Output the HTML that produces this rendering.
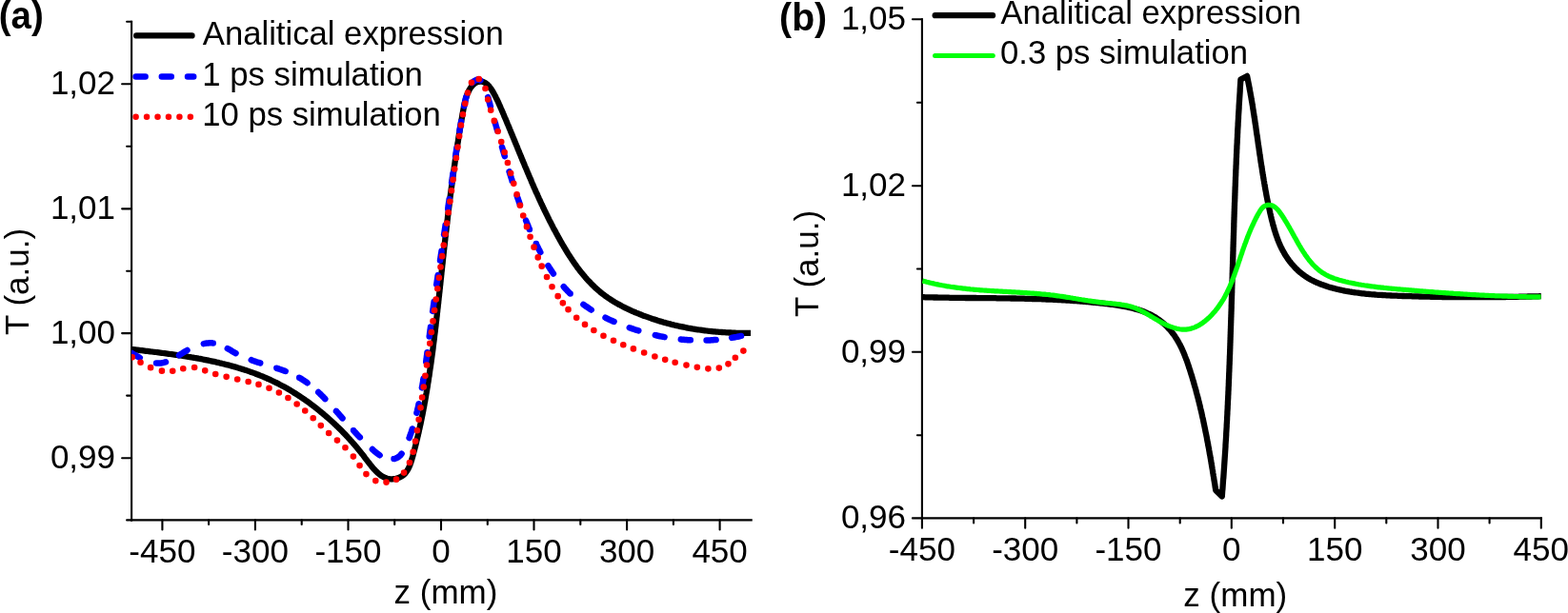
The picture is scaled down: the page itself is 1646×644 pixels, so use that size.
<!DOCTYPE html>
<html><head><meta charset="utf-8"><title>Z-scan figure</title>
<style>
html,body{margin:0;padding:0;background:#fff;}
svg{display:block;}
.ax{stroke:#000;stroke-width:2.1;stroke-linecap:square;}
.tk{stroke:#000;stroke-width:2.1;stroke-linecap:round;}
.lb{font-family:'Liberation Sans',sans-serif;font-size:35px;fill:#000;}
.pl{font-family:'Liberation Sans',sans-serif;font-size:40px;font-weight:bold;fill:#000;}
</style></head>
<body>
<svg width="1646" height="644" viewBox="0 0 1646 644">
<rect width="1646" height="644" fill="#fff"/>
<line x1="138.1" y1="22.8" x2="138.1" y2="546.4" class="ax"/>
<line x1="138.1" y1="546.4" x2="788.7" y2="546.4" class="ax"/>
<line x1="128.1" y1="88.3" x2="138.1" y2="88.3" class="tk"/>
<line x1="128.1" y1="219.35" x2="138.1" y2="219.35" class="tk"/>
<line x1="128.1" y1="350.1" x2="138.1" y2="350.1" class="tk"/>
<line x1="128.1" y1="481.2" x2="138.1" y2="481.2" class="tk"/>
<line x1="133.1" y1="22.8" x2="138.1" y2="22.8" class="tk"/>
<line x1="133.1" y1="153.8" x2="138.1" y2="153.8" class="tk"/>
<line x1="133.1" y1="284.7" x2="138.1" y2="284.7" class="tk"/>
<line x1="133.1" y1="415.6" x2="138.1" y2="415.6" class="tk"/>
<line x1="133.1" y1="546.4" x2="138.1" y2="546.4" class="tk"/>
<line x1="170.4" y1="546.4" x2="170.4" y2="556.5" class="tk"/>
<line x1="267.9" y1="546.4" x2="267.9" y2="556.5" class="tk"/>
<line x1="365.5" y1="546.4" x2="365.5" y2="556.5" class="tk"/>
<line x1="463.0" y1="546.4" x2="463.0" y2="556.5" class="tk"/>
<line x1="560.5" y1="546.4" x2="560.5" y2="556.5" class="tk"/>
<line x1="658.1" y1="546.4" x2="658.1" y2="556.5" class="tk"/>
<line x1="755.6" y1="546.4" x2="755.6" y2="556.5" class="tk"/>
<line x1="219.1" y1="546.4" x2="219.1" y2="550.9" class="tk"/>
<line x1="316.7" y1="546.4" x2="316.7" y2="550.9" class="tk"/>
<line x1="414.2" y1="546.4" x2="414.2" y2="550.9" class="tk"/>
<line x1="511.8" y1="546.4" x2="511.8" y2="550.9" class="tk"/>
<line x1="609.3" y1="546.4" x2="609.3" y2="550.9" class="tk"/>
<line x1="706.9" y1="546.4" x2="706.9" y2="550.9" class="tk"/>
<text x="121" y="98.7" class="lb" text-anchor="end">1,02</text>
<text x="121" y="229.8" class="lb" text-anchor="end">1,01</text>
<text x="121" y="360.5" class="lb" text-anchor="end">1,00</text>
<text x="121" y="491.6" class="lb" text-anchor="end">0,99</text>
<text x="170.4" y="591" class="lb" text-anchor="middle">-450</text>
<text x="267.9" y="591" class="lb" text-anchor="middle">-300</text>
<text x="365.5" y="591" class="lb" text-anchor="middle">-150</text>
<text x="463.0" y="591" class="lb" text-anchor="middle">0</text>
<text x="560.5" y="591" class="lb" text-anchor="middle">150</text>
<text x="658.1" y="591" class="lb" text-anchor="middle">300</text>
<text x="755.6" y="591" class="lb" text-anchor="middle">450</text>
<text x="468" y="634.1" class="lb" text-anchor="middle">z (mm)</text>
<text transform="translate(30.3,296) rotate(-90)" class="lb" text-anchor="middle">T (a.u.)</text>
<text x="-1.3" y="30" class="pl" textLength="47" lengthAdjust="spacingAndGlyphs">(a)</text>
<line x1="967.9" y1="20.3" x2="967.9" y2="544.4" class="ax"/>
<line x1="967.9" y1="544.4" x2="1617.8" y2="544.4" class="ax"/>
<line x1="957.9" y1="20.3" x2="967.9" y2="20.3" class="tk"/>
<text x="951" y="31.0" class="lb" text-anchor="end">1,05</text>
<line x1="957.9" y1="195.2" x2="967.9" y2="195.2" class="tk"/>
<text x="951" y="205.9" class="lb" text-anchor="end">1,02</text>
<line x1="957.9" y1="369.8" x2="967.9" y2="369.8" class="tk"/>
<text x="951" y="380.5" class="lb" text-anchor="end">0,99</text>
<line x1="957.9" y1="544.4" x2="967.9" y2="544.4" class="tk"/>
<text x="951" y="555.1" class="lb" text-anchor="end">0,96</text>
<line x1="962.9" y1="107.8" x2="967.9" y2="107.8" class="tk"/>
<line x1="962.9" y1="282.5" x2="967.9" y2="282.5" class="tk"/>
<line x1="962.9" y1="457.2" x2="967.9" y2="457.2" class="tk"/>
<line x1="967.9" y1="544.4" x2="967.9" y2="554.8" class="tk"/>
<text x="967.9" y="588.8" class="lb" text-anchor="middle">-450</text>
<line x1="1076.2" y1="544.4" x2="1076.2" y2="554.8" class="tk"/>
<text x="1076.2" y="588.8" class="lb" text-anchor="middle">-300</text>
<line x1="1184.5" y1="544.4" x2="1184.5" y2="554.8" class="tk"/>
<text x="1184.5" y="588.8" class="lb" text-anchor="middle">-150</text>
<line x1="1292.8" y1="544.4" x2="1292.8" y2="554.8" class="tk"/>
<text x="1292.8" y="588.8" class="lb" text-anchor="middle">0</text>
<line x1="1401.2" y1="544.4" x2="1401.2" y2="554.8" class="tk"/>
<text x="1401.2" y="588.8" class="lb" text-anchor="middle">150</text>
<line x1="1509.5" y1="544.4" x2="1509.5" y2="554.8" class="tk"/>
<text x="1509.5" y="588.8" class="lb" text-anchor="middle">300</text>
<line x1="1617.8" y1="544.4" x2="1617.8" y2="554.8" class="tk"/>
<text x="1617.8" y="588.8" class="lb" text-anchor="middle">450</text>
<line x1="1022.1" y1="544.4" x2="1022.1" y2="549.4" class="tk"/>
<line x1="1130.4" y1="544.4" x2="1130.4" y2="549.4" class="tk"/>
<line x1="1238.7" y1="544.4" x2="1238.7" y2="549.4" class="tk"/>
<line x1="1347.0" y1="544.4" x2="1347.0" y2="549.4" class="tk"/>
<line x1="1455.3" y1="544.4" x2="1455.3" y2="549.4" class="tk"/>
<line x1="1563.6" y1="544.4" x2="1563.6" y2="549.4" class="tk"/>
<text x="1296.8" y="636.7" class="lb" text-anchor="middle">z (mm)</text>
<text transform="translate(859.1,277) rotate(-90)" class="lb" text-anchor="middle">T (a.u.)</text>
<text x="818.1" y="32.1" class="pl" textLength="50.1" lengthAdjust="spacingAndGlyphs">(b)</text>
<defs><clipPath id="ca"><rect x="138" y="0" width="650.7" height="547.5"/></clipPath><clipPath id="cb"><rect x="967.8" y="0" width="650" height="545.5"/></clipPath></defs>
<g clip-path="url(#ca)">
<path d="M138.6,367.0 140.1,367.2 141.6,367.4 143.0,367.5 144.5,367.7 146.0,367.9 147.5,368.1 148.9,368.2 150.4,368.4 151.9,368.6 153.4,368.8 154.9,368.9 156.3,369.1 157.8,369.3 159.3,369.5 160.8,369.7 162.3,369.8 163.8,370.0 165.2,370.2 166.7,370.4 168.2,370.6 169.7,370.8 171.2,371.0 172.7,371.2 174.2,371.4 175.7,371.6 177.1,371.8 178.6,372.0 180.1,372.2 181.6,372.4 183.1,372.6 184.6,372.8 186.1,373.0 187.6,373.3 189.1,373.5 190.6,373.7 192.0,373.9 193.5,374.2 195.0,374.4 196.5,374.6 198.0,374.9 199.5,375.1 201.0,375.4 202.5,375.6 203.9,375.9 205.4,376.1 206.9,376.4 208.4,376.7 209.9,376.9 211.3,377.2 212.8,377.5 214.3,377.8 215.8,378.1 217.3,378.4 218.7,378.7 220.2,379.0 221.7,379.3 223.1,379.6 224.6,379.9 226.1,380.2 227.6,380.6 229.0,380.9 230.5,381.3 231.9,381.6 233.4,382.0 234.9,382.3 236.3,382.7 237.8,383.1 239.2,383.4 240.7,383.8 242.1,384.2 243.6,384.6 245.0,385.0 246.4,385.4 247.9,385.8 249.3,386.3 250.8,386.7 252.2,387.1 253.6,387.6 255.0,388.0 256.5,388.5 257.9,388.9 259.3,389.4 260.7,389.9 262.1,390.4 263.6,390.9 265.0,391.4 266.4,391.9 267.8,392.4 269.2,393.0 270.6,393.5 272.0,394.0 273.3,394.6 274.7,395.1 276.1,395.7 277.5,396.3 278.9,396.9 280.2,397.5 281.6,398.1 283.0,398.7 284.3,399.3 285.7,400.0 287.0,400.6 288.4,401.3 289.7,401.9 291.1,402.6 292.4,403.3 293.7,404.0 295.1,404.7 296.4,405.4 297.7,406.1 299.0,406.8 300.4,407.6 301.7,408.3 303.0,409.1 304.3,409.8 305.6,410.6 306.9,411.4 308.1,412.2 309.4,413.0 310.7,413.8 312.0,414.6 313.2,415.4 314.5,416.2 315.7,417.1 317.0,417.9 318.2,418.8 319.5,419.6 320.7,420.5 322.0,421.4 323.2,422.2 324.4,423.1 325.6,424.0 326.8,424.9 328.0,425.8 329.2,426.7 330.4,427.6 331.6,428.6 332.8,429.5 333.9,430.4 335.1,431.4 336.3,432.3 337.4,433.3 338.6,434.2 339.7,435.2 340.8,436.1 342.0,437.1 343.1,438.1 344.2,439.0 345.3,440.0 346.4,441.0 347.5,442.0 348.6,443.0 349.7,444.0 350.8,445.0 351.8,446.0 352.9,447.0 353.9,448.0 355.0,449.0 356.0,450.0 357.1,451.1 358.1,452.1 359.1,453.1 360.2,454.2 361.2,455.2 362.2,456.3 363.2,457.3 364.2,458.4 365.2,459.5 366.2,460.6 367.2,461.7 368.2,462.8 369.2,463.9 370.2,465.0 371.2,466.2 372.2,467.3 373.2,468.5 374.1,469.6 375.1,470.8 376.1,472.0 377.1,473.2 378.1,474.4 379.1,475.7 380.1,476.9 381.1,478.2 382.1,479.5 383.0,480.8 384.0,482.1 385.0,483.4 386.0,484.7 387.1,486.0 388.1,487.3 389.1,488.6 390.1,489.9 391.2,491.2 392.2,492.4 393.3,493.6 394.4,494.7 395.5,495.8 396.6,496.9 397.8,497.9 398.9,498.8 400.1,499.7 401.3,500.4 402.5,501.1 403.8,501.7 405.1,502.2 406.4,502.7 407.7,503.0 409.1,503.2 410.4,503.3 411.8,503.3 413.1,503.2 414.5,503.1 415.8,502.8 417.2,502.4 418.4,502.0 419.7,501.4 420.9,500.8 422.1,500.1 423.2,499.3 424.2,498.4 425.2,497.4 426.1,496.3 426.9,495.2 427.7,494.0 428.4,492.8 429.1,491.4 429.7,490.1 430.3,488.7 430.8,487.2 431.4,485.7 431.8,484.2 432.3,482.7 432.7,481.2 433.2,479.6 433.6,478.1 434.0,476.5 434.4,475.0 434.8,473.5 435.2,471.9 435.6,470.4 436.0,468.9 436.4,467.4 436.8,465.8 437.1,464.3 437.5,462.8 437.9,461.3 438.2,459.8 438.6,458.3 438.9,456.8 439.3,455.3 439.6,453.8 439.9,452.3 440.3,450.8 440.6,449.3 440.9,447.8 441.3,446.3 441.6,444.8 441.9,443.3 442.2,441.9 442.5,440.4 442.8,438.9 443.1,437.4 443.4,436.0 443.7,434.5 444.0,433.0 444.3,431.5 444.5,430.1 444.8,428.6 445.1,427.1 445.4,425.7 445.6,424.2 445.9,422.7 446.2,421.3 446.4,419.8 446.7,418.3 446.9,416.9 447.2,415.4 447.4,414.0 447.7,412.5 447.9,411.0 448.2,409.6 448.4,408.1 448.7,406.7 448.9,405.2 449.1,403.7 449.3,402.3 449.6,400.8 449.8,399.4 450.0,397.9 450.2,396.4 450.5,395.0 450.7,393.5 450.9,392.0 451.1,390.6 451.3,389.1 451.5,387.6 451.8,386.2 452.0,384.7 452.2,383.2 452.4,381.8 452.6,380.3 452.8,378.8 453.0,377.3 453.2,375.9 453.4,374.4 453.6,372.9 453.8,371.4 454.0,370.0 454.2,368.5 454.4,367.0 454.6,365.5 454.7,364.1 454.9,362.6 455.1,361.1 455.3,359.6 455.5,358.1 455.7,356.6 455.9,355.2 456.0,353.7 456.2,352.2 456.4,350.7 456.6,349.2 456.8,347.7 456.9,346.3 457.1,344.8 457.3,343.3 457.5,341.8 457.6,340.3 457.8,338.8 458.0,337.3 458.2,335.8 458.3,334.3 458.5,332.8 458.7,331.4 458.8,329.9 459.0,328.4 459.2,326.9 459.3,325.4 459.5,323.9 459.7,322.4 459.8,320.9 460.0,319.4 460.2,317.9 460.3,316.4 460.5,314.9 460.6,313.4 460.8,311.9 461.0,310.4 461.1,308.9 461.3,307.4 461.5,305.9 461.6,304.4 461.8,302.9 461.9,301.4 462.1,299.9 462.3,298.4 462.4,296.9 462.6,295.4 462.7,293.9 462.9,292.4 463.1,290.9 463.2,289.4 463.4,287.9 463.5,286.4 463.7,284.9 463.9,283.4 464.0,281.9 464.2,280.4 464.3,278.9 464.5,277.4 464.7,275.9 464.8,274.4 465.0,272.9 465.1,271.4 465.3,269.9 465.5,268.4 465.6,266.9 465.8,265.4 465.9,263.9 466.1,262.4 466.3,260.9 466.4,259.4 466.6,257.9 466.8,256.4 466.9,254.9 467.1,253.4 467.3,251.9 467.4,250.4 467.6,248.9 467.8,247.4 467.9,245.9 468.1,244.4 468.3,242.9 468.5,241.4 468.6,239.9 468.8,238.4 469.0,236.9 469.1,235.4 469.3,233.9 469.5,232.4 469.7,230.9 469.9,229.4 470.0,227.9 470.2,226.4 470.4,224.9 470.6,223.4 470.8,221.9 470.9,220.4 471.1,218.9 471.3,217.4 471.5,215.9 471.7,214.4 471.9,212.9 472.1,211.4 472.2,209.9 472.4,208.4 472.6,206.9 472.8,205.4 473.0,203.9 473.2,202.4 473.4,201.0 473.6,199.5 473.8,198.0 474.0,196.5 474.2,195.0 474.4,193.6 474.6,192.1 474.8,190.6 475.0,189.1 475.2,187.7 475.4,186.2 475.6,184.7 475.8,183.3 476.0,181.8 476.2,180.4 476.4,178.9 476.6,177.5 476.8,176.0 477.0,174.6 477.2,173.1 477.4,171.7 477.6,170.2 477.8,168.8 478.0,167.4 478.2,165.9 478.4,164.5 478.6,163.1 478.8,161.6 479.0,160.2 479.2,158.8 479.5,157.4 479.7,155.9 479.9,154.5 480.1,153.1 480.3,151.6 480.5,150.2 480.8,148.8 481.0,147.3 481.2,145.9 481.4,144.4 481.7,143.0 481.9,141.5 482.1,140.0 482.4,138.6 482.6,137.1 482.9,135.6 483.1,134.1 483.4,132.6 483.6,131.1 483.9,129.5 484.1,128.0 484.4,126.4 484.7,124.9 485.0,123.3 485.2,121.7 485.5,120.1 485.8,118.5 486.1,116.9 486.4,115.2 486.7,113.6 487.0,112.0 487.4,110.3 487.7,108.7 488.1,107.0 488.5,105.4 488.9,103.8 489.4,102.3 489.9,100.7 490.4,99.2 491.0,97.8 491.7,96.3 492.3,95.0 493.1,93.7 493.9,92.4 494.8,91.2 495.7,90.1 496.7,89.1 497.7,88.1 498.8,87.3 500.0,86.6 501.1,86.1 502.4,85.8 503.6,85.6 504.8,85.6 506.1,85.7 507.3,86.1 508.5,86.6 509.7,87.2 510.8,88.1 511.9,89.0 512.9,90.1 513.9,91.3 514.9,92.6 515.8,93.9 516.7,95.3 517.6,96.7 518.4,98.2 519.2,99.7 520.0,101.1 520.7,102.6 521.4,104.0 522.1,105.4 522.8,106.8 523.4,108.2 524.0,109.6 524.6,110.9 525.2,112.3 525.8,113.7 526.4,115.0 527.0,116.4 527.6,117.8 528.2,119.2 528.8,120.5 529.3,121.9 529.9,123.3 530.5,124.6 531.1,126.0 531.7,127.4 532.2,128.8 532.8,130.2 533.4,131.5 534.0,132.9 534.5,134.3 535.1,135.7 535.7,137.0 536.2,138.4 536.8,139.8 537.4,141.2 538.0,142.6 538.5,144.0 539.1,145.3 539.7,146.7 540.2,148.1 540.8,149.5 541.4,150.9 541.9,152.2 542.5,153.6 543.1,155.0 543.6,156.4 544.2,157.8 544.8,159.2 545.3,160.5 545.9,161.9 546.5,163.3 547.0,164.7 547.6,166.1 548.2,167.5 548.7,168.8 549.3,170.2 549.9,171.6 550.5,173.0 551.0,174.4 551.6,175.7 552.2,177.1 552.8,178.5 553.4,179.9 553.9,181.3 554.5,182.6 555.1,184.0 555.7,185.4 556.3,186.8 556.9,188.1 557.5,189.5 558.0,190.9 558.6,192.3 559.2,193.6 559.8,195.0 560.4,196.4 561.0,197.8 561.6,199.1 562.2,200.5 562.8,201.9 563.5,203.2 564.1,204.6 564.7,206.0 565.3,207.3 565.9,208.7 566.5,210.0 567.2,211.4 567.8,212.8 568.4,214.1 569.1,215.5 569.7,216.8 570.3,218.2 571.0,219.5 571.6,220.9 572.3,222.2 572.9,223.6 573.6,224.9 574.3,226.3 574.9,227.6 575.6,229.0 576.2,230.3 576.9,231.7 577.6,233.0 578.3,234.3 579.0,235.7 579.7,237.0 580.3,238.3 581.0,239.7 581.7,241.0 582.5,242.3 583.2,243.6 583.9,245.0 584.6,246.3 585.3,247.6 586.0,248.9 586.8,250.2 587.5,251.5 588.2,252.9 589.0,254.2 589.7,255.5 590.5,256.8 591.3,258.1 592.0,259.4 592.8,260.7 593.6,262.0 594.4,263.3 595.1,264.5 595.9,265.8 596.7,267.1 597.5,268.4 598.4,269.6 599.2,270.9 600.0,272.1 600.8,273.4 601.7,274.6 602.5,275.9 603.4,277.1 604.3,278.3 605.1,279.5 606.0,280.8 606.9,282.0 607.8,283.1 608.7,284.3 609.6,285.5 610.6,286.7 611.5,287.8 612.5,289.0 613.4,290.1 614.4,291.3 615.4,292.4 616.3,293.5 617.3,294.6 618.3,295.7 619.4,296.7 620.4,297.8 621.4,298.9 622.5,299.9 623.6,300.9 624.6,301.9 625.7,303.0 626.8,303.9 627.9,304.9 629.1,305.9 630.2,306.8 631.3,307.8 632.5,308.7 633.7,309.6 634.9,310.5 636.1,311.4 637.3,312.2 638.5,313.1 639.8,313.9 641.0,314.7 642.3,315.5 643.5,316.3 644.8,317.1 646.1,317.9 647.4,318.6 648.7,319.4 650.1,320.1 651.4,320.8 652.7,321.5 654.1,322.2 655.4,322.9 656.8,323.6 658.1,324.2 659.5,324.9 660.9,325.5 662.3,326.2 663.6,326.8 665.0,327.4 666.4,328.0 667.8,328.6 669.2,329.1 670.6,329.7 672.0,330.3 673.4,330.8 674.8,331.4 676.3,331.9 677.7,332.4 679.1,332.9 680.5,333.4 681.9,333.9 683.3,334.4 684.8,334.9 686.2,335.4 687.6,335.8 689.0,336.3 690.5,336.8 691.9,337.2 693.3,337.6 694.8,338.0 696.2,338.5 697.6,338.9 699.1,339.3 700.5,339.7 701.9,340.0 703.4,340.4 704.8,340.8 706.3,341.1 707.7,341.5 709.2,341.8 710.6,342.2 712.1,342.5 713.5,342.8 715.0,343.1 716.4,343.4 717.9,343.7 719.4,344.0 720.8,344.3 722.3,344.6 723.8,344.8 725.2,345.1 726.7,345.4 728.2,345.6 729.6,345.8 731.1,346.1 732.6,346.3 734.1,346.5 735.5,346.7 737.0,346.9 738.5,347.1 740.0,347.3 741.5,347.5 742.9,347.7 744.4,347.8 745.9,348.0 747.4,348.1 748.9,348.3 750.4,348.4 751.9,348.6 753.4,348.7 754.9,348.8 756.4,348.9 757.9,349.0 759.4,349.1 760.9,349.2 762.4,349.3 763.9,349.4 765.4,349.5 766.9,349.5 768.4,349.6 769.9,349.7 771.4,349.7 772.9,349.8 774.4,349.8 776.0,349.8 777.5,349.8 779.0,349.9 780.5,349.9 782.0,349.9 783.5,349.9 785.1,349.9 786.6,349.9 788.1,349.9" fill="none" stroke="#000" stroke-width="6.3" stroke-linejoin="round"/>
<path d="M138.1,370.8 138.3,370.9 138.9,371.3 139.7,371.8 140.4,372.2 141.2,372.7 142.0,373.2 142.8,373.6 143.7,374.1 144.6,374.6 145.5,375.1 146.4,375.6 146.8,375.8 M164.1,381.5 164.3,381.5 165.3,381.6 166.3,381.6 167.2,381.6 168.2,381.5 169.1,381.4 170.0,381.3 170.9,381.1 171.8,380.9 172.7,380.7 173.6,380.4 174.0,380.3 M188.0,373.2 188.1,373.1 188.9,372.6 189.8,372.1 190.7,371.5 191.6,371.0 192.4,370.4 193.3,369.9 194.2,369.4 195.1,368.8 196.0,368.3 196.5,368.0 M213.8,361.1 213.8,361.1 214.8,360.9 215.8,360.7 216.8,360.6 217.8,360.5 218.7,360.4 219.7,360.3 220.7,360.3 221.6,360.3 222.6,360.3 223.5,360.4 223.7,360.4 M238.8,366.1 239.0,366.2 239.8,366.7 240.7,367.2 241.6,367.7 242.5,368.2 243.4,368.8 244.3,369.3 245.2,369.8 246.1,370.3 247.0,370.8 247.5,371.1 M263.8,378.2 263.9,378.3 264.9,378.6 265.8,379.0 266.8,379.3 267.8,379.6 268.7,380.0 269.7,380.3 270.6,380.6 271.6,380.9 272.6,381.2 273.2,381.4 M290.3,386.7 290.3,386.8 291.3,387.1 292.2,387.4 293.1,387.7 294.1,388.0 295.0,388.3 296.0,388.7 296.9,389.0 297.8,389.3 298.7,389.7 299.7,390.0 299.7,390.0 M314.2,396.8 314.3,396.8 315.2,397.3 316.0,397.8 316.8,398.4 317.7,398.9 318.5,399.4 319.3,400.0 320.1,400.5 320.9,401.1 321.7,401.6 322.5,402.2 322.6,402.3 M334.2,412.0 334.4,412.2 335.1,412.9 335.8,413.5 336.5,414.3 337.3,415.0 338.0,415.7 338.7,416.4 339.4,417.1 340.1,417.8 340.8,418.6 341.3,419.1 M352.9,431.9 353.1,432.0 353.7,432.8 354.4,433.6 355.1,434.3 355.7,435.1 356.4,435.8 357.0,436.6 357.7,437.3 358.3,438.1 359.0,438.8 359.5,439.4 M371.0,452.2 371.0,452.3 371.7,453.0 372.4,453.7 373.0,454.4 373.7,455.1 374.4,455.8 375.1,456.6 375.7,457.3 376.4,458.0 377.1,458.7 377.8,459.4 377.8,459.4 M390.9,472.0 391.0,472.1 391.8,472.9 392.6,473.6 393.4,474.3 394.2,474.9 395.0,475.6 395.9,476.3 396.7,476.9 397.5,477.5 398.4,478.1 398.6,478.3 M413.5,482.1 413.7,482.1 414.6,481.8 415.4,481.5 416.3,481.2 417.1,480.7 417.9,480.3 418.7,479.7 419.4,479.1 420.1,478.5 420.8,477.7 421.4,476.9 421.6,476.6 M429.6,460.0 429.7,459.8 430.1,458.8 430.4,457.9 430.7,456.9 431.1,456.0 431.4,455.1 431.7,454.1 432.0,453.2 432.3,452.2 432.6,451.3 432.8,450.5 M437.4,433.9 437.4,433.9 437.6,432.9 437.9,432.0 438.1,431.0 438.3,430.0 438.5,429.1 438.8,428.1 439.0,427.1 439.2,426.2 439.4,425.2 439.6,424.2 439.6,424.2 M442.9,407.4 442.9,407.4 443.1,406.4 443.3,405.4 443.5,404.4 443.6,403.4 443.8,402.4 444.0,401.4 444.1,400.5 444.3,399.5 444.4,398.5 444.6,397.5 M447.2,380.1 447.2,379.9 447.4,378.9 447.5,377.9 447.6,376.9 447.8,375.9 447.9,374.9 448.0,373.9 448.2,372.9 448.3,371.9 448.4,370.9 448.5,370.2 M450.7,353.5 450.7,353.2 450.9,352.3 451.0,351.3 451.1,350.3 451.2,349.3 451.4,348.3 451.5,347.3 451.6,346.3 451.8,345.3 451.9,344.3 452.0,343.6 M454.2,326.9 454.3,326.7 454.4,325.7 454.5,324.7 454.7,323.7 454.8,322.7 454.9,321.7 455.1,320.7 455.2,319.7 455.4,318.7 455.5,317.7 455.6,317.0 M458.2,299.0 458.2,299.0 458.4,298.0 458.5,297.0 458.7,296.0 458.8,295.0 459.0,294.0 459.1,293.0 459.3,292.1 459.4,291.1 459.5,290.1 459.7,289.1 459.7,289.1 M462.0,273.6 462.0,273.5 462.2,272.6 462.3,271.6 462.5,270.6 462.6,269.6 462.8,268.6 462.9,267.6 463.1,266.6 463.2,265.6 463.4,264.7 463.5,263.7 463.5,263.7 M466.1,246.4 466.2,246.1 466.3,245.1 466.5,244.2 466.6,243.2 466.8,242.2 466.9,241.2 467.1,240.2 467.2,239.2 467.4,238.2 467.5,237.2 467.6,236.5 M470.2,219.2 470.2,219.1 470.4,218.1 470.5,217.1 470.6,216.2 470.8,215.2 470.9,214.2 471.1,213.2 471.2,212.2 471.4,211.2 471.5,210.2 471.6,209.3 M474.1,192.0 474.1,192.0 474.3,191.0 474.4,190.0 474.5,189.0 474.7,188.0 474.8,187.0 475.0,186.0 475.1,185.0 475.3,184.0 475.4,183.0 475.5,182.1 M478.1,164.8 478.1,164.7 478.2,163.7 478.4,162.7 478.5,161.7 478.7,160.7 478.8,159.7 479.0,158.7 479.1,157.7 479.3,156.7 479.5,155.8 479.6,154.9 M482.4,137.7 482.4,137.6 482.6,136.6 482.7,135.7 482.9,134.7 483.1,133.7 483.2,132.7 483.4,131.8 483.6,130.8 483.7,129.8 483.9,128.9 484.1,127.9 484.1,127.8 M487.2,111.4 487.3,111.2 487.5,110.2 487.7,109.2 487.9,108.2 488.1,107.2 488.4,106.2 488.6,105.2 488.8,104.2 489.0,103.2 489.3,102.2 489.4,101.6 M495.5,87.0 495.7,86.8 496.4,86.2 497.2,85.5 498.0,85.0 498.9,84.5 499.8,84.0 500.8,83.7 501.8,83.5 502.7,83.6 503.5,83.9 504.3,84.4 504.3,84.4 M512.2,102.1 512.2,102.1 512.4,103.0 512.7,104.0 513.0,105.0 513.2,105.9 513.5,106.9 513.8,107.8 514.1,108.8 514.3,109.8 514.6,110.7 514.9,111.7 514.9,111.7 M519.4,127.8 519.4,127.8 519.7,128.8 520.0,129.7 520.3,130.7 520.5,131.6 520.8,132.6 521.1,133.6 521.3,134.5 521.6,135.5 521.9,136.5 522.2,137.4 522.2,137.4 M527.0,154.5 527.0,154.5 527.3,155.4 527.6,156.4 527.8,157.3 528.1,158.3 528.4,159.3 528.7,160.2 529.0,161.2 529.2,162.1 529.5,163.1 529.8,164.1 529.8,164.1 M534.6,180.3 534.6,180.3 534.9,181.3 535.2,182.2 535.5,183.2 535.8,184.1 536.1,185.1 536.4,186.0 536.7,187.0 537.0,187.9 537.3,188.9 537.6,189.8 537.6,189.9 M542.7,205.7 542.7,205.7 543.0,206.7 543.3,207.6 543.6,208.6 544.0,209.5 544.3,210.4 544.6,211.4 544.9,212.3 545.3,213.3 545.6,214.2 545.9,215.1 545.9,215.2 M552.1,231.7 552.1,231.7 552.5,232.6 552.9,233.6 553.2,234.5 553.6,235.4 554.0,236.3 554.4,237.3 554.7,238.2 555.1,239.1 555.5,240.0 555.9,240.9 555.9,241.0 M562.8,256.0 562.8,256.2 563.3,257.1 563.7,258.0 564.2,258.9 564.6,259.8 565.1,260.7 565.5,261.6 566.0,262.5 566.5,263.4 566.9,264.3 567.3,265.0 M575.4,279.2 575.5,279.4 576.1,280.3 576.6,281.1 577.2,281.9 577.7,282.8 578.3,283.6 578.8,284.5 579.4,285.3 579.9,286.1 580.5,286.9 580.9,287.5 M591.7,301.2 591.7,301.2 592.4,302.0 593.0,302.7 593.7,303.4 594.4,304.1 595.1,304.9 595.7,305.6 596.4,306.3 597.1,307.0 597.8,307.7 598.5,308.4 598.6,308.4 M612.4,319.9 612.4,319.9 613.2,320.5 614.0,321.0 614.8,321.6 615.6,322.2 616.5,322.7 617.3,323.3 618.1,323.8 619.0,324.4 619.8,324.9 620.6,325.4 620.7,325.5 M635.5,333.7 635.7,333.8 636.6,334.3 637.5,334.7 638.4,335.1 639.3,335.6 640.2,336.0 641.2,336.4 642.1,336.8 643.0,337.3 643.9,337.7 644.6,337.9 M660.8,344.3 661.0,344.4 662.0,344.7 662.9,345.0 663.9,345.4 664.9,345.7 665.8,346.0 666.8,346.3 667.7,346.6 668.7,346.9 669.6,347.2 670.3,347.4 M687.8,352.1 687.8,352.1 688.8,352.3 689.8,352.5 690.7,352.8 691.7,353.0 692.7,353.2 693.7,353.4 694.6,353.6 695.6,353.7 696.6,353.9 697.6,354.1 697.6,354.1 M714.8,356.6 714.8,356.6 715.8,356.7 716.8,356.8 717.8,356.8 718.8,356.9 719.8,357.0 720.8,357.1 721.8,357.2 722.8,357.2 723.8,357.3 724.8,357.3 724.8,357.3 M741.6,357.5 741.6,357.5 742.6,357.5 743.6,357.5 744.6,357.4 745.6,357.4 746.6,357.3 747.6,357.3 748.6,357.2 749.6,357.1 750.6,357.1 751.6,357.0 751.6,357.0 M768.2,354.9 768.4,354.8 769.4,354.6 770.4,354.5 771.4,354.3 772.4,354.1 773.4,353.9 774.4,353.7 775.4,353.5 776.3,353.3 777.3,353.0 778.0,352.9" fill="none" stroke="#00f" stroke-width="6.5" stroke-linecap="round" stroke-linejoin="round"/>
<path d="M138.80,375.34h0.02 M147.52,380.80h0.02 M158.09,386.15h0.02 M169.90,389.65h0.02 M181.21,389.82h0.02 M192.27,387.27h0.02 M204.12,385.93h0.02 M215.21,389.35h0.02 M226.20,392.94h0.02 M237.65,395.87h0.02 M249.17,398.43h0.02 M260.66,401.03h0.02 M271.49,403.92h0.02 M282.50,407.72h0.02 M292.88,412.51h0.02 M302.39,418.03h0.02 M311.65,424.48h0.02 M320.23,431.45h0.02 M328.72,439.26h0.02 M336.79,447.10h0.02 M345.14,454.95h0.02 M353.95,462.60h0.02 M362.44,470.26h0.02 M370.88,479.58h0.02 M377.54,489.10h0.02 M384.42,498.11h0.02 M394.28,505.11h0.02 M405.52,506.58h0.02 M416.04,503.63h0.02 M424.05,496.62h0.02 M429.95,485.96h0.02 M433.65,474.82h0.02 M436.09,463.58h0.02 M437.92,452.18h0.02 M439.64,440.79h0.02 M441.52,428.18h0.02 M443.09,417.57h0.02 M444.71,406.47h0.02 M446.39,394.87h0.02 M448.02,383.50h0.02 M449.68,371.86h0.02 M451.25,360.71h0.02 M452.89,349.04h0.02 M454.52,337.38h0.02 M456.11,325.97h0.02 M457.70,314.57h0.02 M459.30,303.19h0.02 M460.89,291.82h0.02 M462.50,280.49h0.02 M464.11,269.16h0.02 M465.76,257.58h0.02 M467.42,246.01h0.02 M469.05,234.60h0.02 M470.69,223.20h0.02 M472.34,211.69h0.02 M473.98,200.19h0.02 M475.61,188.83h0.02 M477.23,177.47h0.02 M478.86,166.04h0.02 M480.48,154.61h0.02 M482.15,143.03h0.02 M483.93,131.46h0.02 M485.91,120.23h0.02 M488.28,108.71h0.02 M490.99,97.55h0.02 M494.96,86.78h0.02 M502.71,82.99h0.02 M509.48,93.06h0.02 M512.15,104.55h0.02 M515.19,115.75h0.02 M518.81,126.91h0.02 M522.62,138.07h0.02 M526.21,149.03h0.02 M529.62,160.02h0.02 M532.91,171.03h0.02 M536.12,182.05h0.02 M539.23,192.83h0.02 M542.56,204.33h0.02 M545.94,215.80h0.02 M549.22,226.53h0.02 M552.95,238.17h0.02 M556.57,248.81h0.02 M560.51,259.64h0.02 M564.73,270.39h0.02 M568.68,279.67h0.02 M574.04,291.07h0.02 M579.50,301.22h0.02 M585.66,311.14h0.02 M590.84,318.33h0.02 M596.50,325.15h0.02 M605.15,333.81h0.02 M613.99,340.89h0.02 M623.35,347.06h0.02 M633.46,352.71h0.02 M643.98,357.78h0.02 M654.27,362.21h0.02 M664.87,366.39h0.02 M676.13,370.57h0.02 M687.37,374.45h0.02 M698.19,377.84h0.02 M708.65,380.76h0.02 M720.48,383.60h0.02 M731.83,385.83h0.02 M743.36,387.33h0.02 M754.81,386.59h0.02 M764.45,382.36h0.02 M771.86,375.80h0.02 M780.36,368.59h0.02" fill="none" stroke="#f00" stroke-width="6.6" stroke-linecap="round"/>
</g>
<g clip-path="url(#cb)">
<path d="M968.2,312.2 969.8,312.2 971.3,312.3 972.8,312.3 974.4,312.3 975.9,312.4 977.4,312.4 979.0,312.4 980.5,312.5 982.0,312.5 983.5,312.5 985.1,312.6 986.6,312.6 988.1,312.6 989.6,312.6 991.1,312.7 992.6,312.7 994.2,312.7 995.7,312.7 997.2,312.8 998.7,312.8 1000.2,312.8 1001.7,312.8 1003.2,312.8 1004.7,312.9 1006.2,312.9 1007.7,312.9 1009.2,312.9 1010.7,312.9 1012.2,312.9 1013.7,313.0 1015.2,313.0 1016.7,313.0 1018.2,313.0 1019.7,313.0 1021.2,313.0 1022.7,313.0 1024.2,313.0 1025.7,313.1 1027.2,313.1 1028.7,313.1 1030.2,313.1 1031.7,313.1 1033.2,313.1 1034.7,313.1 1036.2,313.2 1037.7,313.2 1039.2,313.2 1040.6,313.2 1042.1,313.2 1043.6,313.2 1045.1,313.2 1046.6,313.3 1048.1,313.3 1049.6,313.3 1051.1,313.3 1052.6,313.3 1054.0,313.4 1055.5,313.4 1057.0,313.4 1058.5,313.4 1060.0,313.4 1061.5,313.5 1063.0,313.5 1064.4,313.5 1065.9,313.5 1067.4,313.6 1068.9,313.6 1070.4,313.6 1071.9,313.7 1073.3,313.7 1074.8,313.7 1076.3,313.8 1077.8,313.8 1079.3,313.8 1080.8,313.9 1082.3,313.9 1083.7,314.0 1085.2,314.0 1086.7,314.0 1088.2,314.1 1089.7,314.1 1091.2,314.2 1092.7,314.2 1094.2,314.3 1095.6,314.3 1097.1,314.4 1098.6,314.5 1100.1,314.5 1101.6,314.6 1103.1,314.7 1104.6,314.7 1106.1,314.8 1107.6,314.9 1109.1,314.9 1110.5,315.0 1112.0,315.1 1113.5,315.2 1115.0,315.3 1116.5,315.3 1118.0,315.4 1119.5,315.5 1121.0,315.6 1122.5,315.7 1124.0,315.8 1125.5,315.9 1127.0,316.0 1128.5,316.1 1130.0,316.2 1131.5,316.3 1133.0,316.4 1134.5,316.6 1136.0,316.7 1137.5,316.8 1139.1,316.9 1140.6,317.1 1142.1,317.2 1143.6,317.3 1145.1,317.5 1146.6,317.6 1148.1,317.8 1149.6,317.9 1151.2,318.1 1152.7,318.2 1154.2,318.4 1155.7,318.5 1157.2,318.7 1158.8,318.9 1160.3,319.0 1161.8,319.2 1163.3,319.4 1164.9,319.6 1166.4,319.8 1167.9,320.0 1169.4,320.2 1171.0,320.4 1172.5,320.6 1174.0,320.8 1175.5,321.1 1177.0,321.3 1178.5,321.6 1180.0,321.9 1181.5,322.2 1183.0,322.5 1184.5,322.8 1186.0,323.1 1187.5,323.4 1188.9,323.8 1190.4,324.2 1191.8,324.6 1193.2,325.0 1194.7,325.4 1196.1,325.8 1197.5,326.3 1198.9,326.8 1200.3,327.3 1201.6,327.8 1203.0,328.4 1204.3,329.0 1205.6,329.6 1207.0,330.2 1208.3,330.8 1209.5,331.5 1210.8,332.2 1212.1,332.9 1213.3,333.7 1214.5,334.5 1215.7,335.3 1216.9,336.1 1218.0,337.0 1219.2,337.9 1220.3,338.8 1221.4,339.8 1222.5,340.7 1223.5,341.7 1224.6,342.7 1225.6,343.8 1226.6,344.9 1227.6,345.9 1228.6,347.1 1229.5,348.2 1230.4,349.3 1231.3,350.5 1232.2,351.7 1233.1,352.9 1233.9,354.2 1234.7,355.4 1235.5,356.7 1236.3,358.0 1237.0,359.3 1237.7,360.6 1238.5,361.9 1239.1,363.2 1239.8,364.6 1240.5,365.9 1241.1,367.3 1241.7,368.7 1242.3,370.1 1242.9,371.5 1243.5,372.9 1244.0,374.3 1244.6,375.8 1245.1,377.2 1245.7,378.6 1246.2,380.1 1246.7,381.5 1247.2,383.0 1247.7,384.4 1248.1,385.9 1248.6,387.3 1249.1,388.8 1249.6,390.3 1250.0,391.7 1250.5,393.2 1250.9,394.6 1251.4,396.1 1251.8,397.5 1252.2,399.0 1252.7,400.4 1253.1,401.9 1253.5,403.3 1253.9,404.8 1254.3,406.3 1254.8,407.7 1255.2,409.2 1255.6,410.6 1255.9,412.1 1256.3,413.5 1256.7,415.0 1257.1,416.4 1257.5,417.9 1257.9,419.3 1258.2,420.8 1258.6,422.2 1258.9,423.7 1259.3,425.1 1259.7,426.6 1260.0,428.1 1260.3,429.5 1260.7,431.0 1261.0,432.4 1261.4,433.9 1261.7,435.3 1262.0,436.8 1262.3,438.2 1262.7,439.7 1263.0,441.2 1263.3,442.6 1263.6,444.1 1263.9,445.5 1264.2,447.0 1264.5,448.4 1264.8,449.9 1265.1,451.4 1265.4,452.8 1265.7,454.3 1266.0,455.7 1266.3,457.2 1266.6,458.7 1266.9,460.1 1267.1,461.6 1267.4,463.1 1267.7,464.5 1268.0,466.0 1268.2,467.5 1268.5,468.9 1268.8,470.4 1269.1,471.9 1269.3,473.3 1269.6,474.8 1269.8,476.3 1270.1,477.8 1270.4,479.2 1270.6,480.7 1270.9,482.2 1271.1,483.7 1271.4,485.1 1271.6,486.6 1271.9,488.1 1272.1,489.6 1272.4,491.1 1272.6,492.5 1272.9,494.0 1273.1,495.5 1273.3,497.0 1273.6,498.5 1273.8,500.0 1274.1,501.5 1274.3,502.9 1274.5,504.4 1274.8,505.9 1275.0,507.4 1275.3,508.9 1275.5,510.4 1275.7,511.9 1276.0,513.4 1276.2,514.9 L1282.8,521.5 1282.9,520.0 1283.0,518.5 1283.1,517.0 1283.2,515.5 1283.4,514.0 1283.5,512.5 1283.6,511.0 1283.7,509.5 1283.8,508.0 1283.9,506.5 1284.0,505.0 1284.1,503.5 1284.3,502.0 1284.4,500.5 1284.5,499.0 1284.6,497.5 1284.7,496.0 1284.8,494.5 1284.9,493.0 1285.0,491.5 1285.1,490.0 1285.2,488.5 1285.3,487.0 1285.4,485.5 1285.5,484.0 1285.6,482.5 1285.7,481.0 1285.8,479.5 1285.9,478.1 1286.0,476.6 1286.1,475.1 1286.2,473.6 1286.3,472.1 1286.4,470.6 1286.5,469.1 1286.5,467.6 1286.6,466.1 1286.7,464.6 1286.8,463.1 1286.9,461.6 1287.0,460.1 1287.1,458.6 1287.2,457.1 1287.2,455.6 1287.3,454.1 1287.4,452.6 1287.5,451.1 1287.6,449.6 1287.7,448.1 1287.7,446.6 1287.8,445.1 1287.9,443.6 1288.0,442.1 1288.1,440.6 1288.1,439.1 1288.2,437.6 1288.3,436.1 1288.4,434.6 1288.4,433.1 1288.5,431.6 1288.6,430.1 1288.7,428.6 1288.7,427.1 1288.8,425.6 1288.9,424.1 1288.9,422.6 1289.0,421.1 1289.1,419.6 1289.2,418.1 1289.2,416.6 1289.3,415.1 1289.4,413.6 1289.4,412.1 1289.5,410.6 1289.6,409.1 1289.6,407.6 1289.7,406.1 1289.8,404.6 1289.8,403.1 1289.9,401.6 1289.9,400.1 1290.0,398.6 1290.1,397.1 1290.1,395.6 1290.2,394.1 1290.2,392.6 1290.3,391.1 1290.4,389.6 1290.4,388.1 1290.5,386.6 1290.5,385.1 1290.6,383.6 1290.7,382.1 1290.7,380.6 1290.8,379.1 1290.8,377.6 1290.9,376.1 1290.9,374.6 1291.0,373.1 1291.1,371.6 1291.1,370.1 1291.2,368.6 1291.2,367.1 1291.3,365.6 1291.3,364.1 1291.4,362.6 1291.4,361.1 1291.5,359.6 1291.5,358.1 1291.6,356.6 1291.6,355.1 1291.7,353.6 1291.7,352.1 1291.8,350.6 1291.8,349.1 1291.9,347.6 1291.9,346.1 1292.0,344.6 1292.0,343.1 1292.1,341.6 1292.1,340.1 1292.2,338.6 1292.2,337.1 1292.3,335.6 1292.3,334.1 1292.4,332.6 1292.4,331.1 1292.5,329.6 1292.5,328.1 1292.6,326.6 1292.6,325.1 1292.7,323.6 1292.7,322.1 1292.7,320.6 1292.8,319.1 1292.8,317.6 1292.9,316.1 1292.9,314.6 1293.0,313.1 1293.0,311.6 1293.1,310.1 1293.1,308.6 1293.2,307.0 1293.2,305.5 1293.2,304.0 1293.3,302.5 1293.3,301.0 1293.4,299.5 1293.4,298.0 1293.5,296.5 1293.5,295.0 1293.6,293.5 1293.6,292.0 1293.7,290.5 1293.7,289.0 1293.7,287.5 1293.8,286.0 1293.8,284.5 1293.9,283.0 1293.9,281.5 1294.0,280.0 1294.0,278.5 1294.1,277.0 1294.1,275.5 1294.1,274.0 1294.2,272.5 1294.2,271.0 1294.3,269.5 1294.3,268.0 1294.4,266.5 1294.4,265.0 1294.5,263.5 1294.5,262.0 1294.5,260.5 1294.6,259.0 1294.6,257.5 1294.7,256.0 1294.7,254.5 1294.8,253.0 1294.8,251.5 1294.9,250.0 1294.9,248.5 1295.0,247.0 1295.0,245.5 1295.1,244.0 1295.1,242.5 1295.2,241.0 1295.2,239.5 1295.3,238.0 1295.3,236.5 1295.3,235.0 1295.4,233.5 1295.4,232.0 1295.5,230.5 1295.5,229.0 1295.6,227.5 1295.6,226.0 1295.7,224.5 1295.7,223.0 1295.8,221.5 1295.8,220.0 1295.9,218.5 1295.9,217.0 1296.0,215.5 1296.0,214.0 1296.1,212.5 1296.2,211.0 1296.2,209.5 1296.3,208.0 1296.3,206.5 1296.4,205.0 1296.4,203.5 1296.5,202.0 1296.5,200.5 1296.6,199.0 1296.6,197.5 1296.7,196.0 1296.8,194.5 1296.8,193.0 1296.9,191.5 1296.9,190.0 1297.0,188.5 1297.0,187.0 1297.1,185.5 1297.2,184.0 1297.2,182.5 1297.3,181.0 1297.3,179.5 1297.4,178.0 1297.5,176.5 1297.5,175.0 1297.6,173.5 1297.7,172.0 1297.7,170.5 1297.8,169.0 1297.8,167.5 1297.9,166.0 1298.0,164.5 1298.0,163.0 1298.1,161.5 1298.2,160.0 1298.2,158.5 1298.3,157.0 1298.4,155.5 1298.4,154.0 1298.5,152.5 1298.6,151.0 1298.7,149.5 1298.7,148.0 1298.8,146.5 1298.9,145.0 1299.0,143.5 1299.0,142.0 1299.1,140.5 1299.2,139.0 1299.2,137.5 1299.3,136.0 1299.4,134.5 1299.5,133.0 1299.6,131.5 1299.6,130.0 1299.7,128.5 1299.8,127.0 1299.9,125.5 1300.0,124.0 1300.0,122.5 1300.1,121.0 1300.2,119.5 1300.3,118.0 1300.4,116.5 1300.5,115.0 1300.6,113.5 1300.6,112.0 1300.7,110.5 1300.8,109.0 1300.9,107.5 1301.0,106.0 1301.1,104.5 1301.2,103.0 1301.3,101.5 1301.4,100.0 1301.5,98.5 1301.6,97.0 1301.7,95.5 1301.7,94.0 1301.8,92.5 1301.9,91.0 1302.0,89.5 1302.1,88.0 1302.2,86.5 1302.3,85.0 1302.4,83.5 L1309.1,79.9 1309.4,81.4 1309.7,82.9 1310.0,84.4 1310.3,85.9 1310.6,87.4 1310.9,88.9 1311.2,90.4 1311.5,91.9 1311.7,93.4 1312.0,94.9 1312.3,96.3 1312.6,97.8 1312.8,99.3 1313.1,100.8 1313.4,102.3 1313.6,103.8 1313.9,105.3 1314.1,106.8 1314.4,108.2 1314.6,109.7 1314.9,111.2 1315.1,112.7 1315.3,114.2 1315.6,115.7 1315.8,117.1 1316.0,118.6 1316.3,120.1 1316.5,121.6 1316.7,123.1 1317.0,124.5 1317.2,126.0 1317.4,127.5 1317.6,129.0 1317.8,130.4 1318.1,131.9 1318.3,133.4 1318.5,134.9 1318.7,136.4 1318.9,137.8 1319.1,139.3 1319.3,140.8 1319.6,142.3 1319.8,143.7 1320.0,145.2 1320.2,146.7 1320.4,148.2 1320.6,149.6 1320.8,151.1 1321.0,152.6 1321.3,154.1 1321.5,155.6 1321.7,157.0 1321.9,158.5 1322.1,160.0 1322.3,161.5 1322.5,162.9 1322.8,164.4 1323.0,165.9 1323.2,167.4 1323.4,168.8 1323.6,170.3 1323.9,171.8 1324.1,173.3 1324.3,174.7 1324.6,176.2 1324.8,177.7 1325.0,179.2 1325.2,180.7 1325.5,182.1 1325.7,183.6 1326.0,185.1 1326.2,186.6 1326.5,188.1 1326.7,189.5 1327.0,191.0 1327.2,192.5 1327.5,194.0 1327.7,195.5 1328.0,196.9 1328.2,198.4 1328.5,199.9 1328.8,201.4 1329.1,202.9 1329.3,204.4 1329.6,205.9 1329.9,207.3 1330.2,208.8 1330.5,210.3 1330.8,211.8 1331.1,213.3 1331.4,214.8 1331.7,216.3 1332.0,217.8 1332.4,219.3 1332.7,220.7 1333.0,222.2 1333.3,223.7 1333.7,225.2 1334.0,226.7 1334.4,228.2 1334.7,229.7 1335.1,231.2 1335.5,232.7 1335.9,234.2 1336.2,235.7 1336.6,237.1 1337.1,238.6 1337.5,240.1 1337.9,241.6 1338.4,243.0 1338.8,244.5 1339.3,245.9 1339.8,247.4 1340.3,248.8 1340.8,250.2 1341.3,251.7 1341.9,253.1 1342.4,254.5 1343.0,255.8 1343.6,257.2 1344.2,258.6 1344.9,259.9 1345.5,261.3 1346.2,262.6 1346.9,263.9 1347.7,265.2 1348.4,266.5 1349.2,267.8 1349.9,269.0 1350.8,270.3 1351.6,271.5 1352.4,272.7 1353.3,273.9 1354.2,275.0 1355.1,276.2 1356.0,277.3 1357.0,278.4 1358.0,279.5 1358.9,280.6 1360.0,281.7 1361.0,282.7 1362.1,283.7 1363.1,284.7 1364.2,285.6 1365.3,286.6 1366.5,287.5 1367.6,288.4 1368.8,289.2 1370.0,290.1 1371.2,290.9 1372.4,291.7 1373.7,292.4 1375.0,293.2 1376.2,293.9 1377.5,294.6 1378.9,295.2 1380.2,295.9 1381.5,296.5 1382.9,297.1 1384.3,297.7 1385.7,298.3 1387.0,298.8 1388.5,299.3 1389.9,299.8 1391.3,300.3 1392.7,300.8 1394.2,301.3 1395.6,301.7 1397.1,302.1 1398.6,302.5 1400.0,302.9 1401.5,303.3 1403.0,303.7 1404.5,304.0 1406.0,304.3 1407.5,304.7 1409.0,305.0 1410.5,305.3 1412.0,305.6 1413.5,305.8 1415.0,306.1 1416.5,306.4 1418.0,306.6 1419.5,306.9 1421.0,307.1 1422.5,307.3 1424.0,307.5 1425.5,307.7 1427.0,307.9 1428.5,308.1 1430.0,308.3 1431.5,308.4 1433.0,308.6 1434.5,308.8 1436.0,308.9 1437.5,309.0 1439.0,309.2 1440.5,309.3 1442.0,309.4 1443.5,309.5 1445.0,309.7 1446.6,309.8 1448.1,309.9 1449.6,309.9 1451.1,310.0 1452.6,310.1 1454.1,310.2 1455.6,310.3 1457.1,310.4 1458.6,310.4 1460.1,310.5 1461.6,310.6 1463.1,310.6 1464.6,310.7 1466.1,310.7 1467.7,310.8 1469.2,310.9 1470.7,310.9 1472.2,311.0 1473.7,311.0 1475.2,311.1 1476.7,311.1 1478.2,311.1 1479.7,311.2 1481.2,311.2 1482.7,311.3 1484.2,311.3 1485.7,311.4 1487.2,311.4 1488.7,311.4 1490.2,311.5 1491.7,311.5 1493.2,311.6 1494.7,311.6 1496.2,311.6 1497.7,311.7 1499.2,311.7 1500.7,311.7 1502.2,311.8 1503.7,311.8 1505.2,311.8 1506.7,311.8 1508.2,311.9 1509.7,311.9 1511.2,311.9 1512.7,311.9 1514.2,312.0 1515.7,312.0 1517.2,312.0 1518.7,312.0 1520.2,312.0 1521.7,312.1 1523.2,312.1 1524.7,312.1 1526.2,312.1 1527.7,312.1 1529.1,312.1 1530.6,312.1 1532.1,312.1 1533.6,312.2 1535.1,312.2 1536.6,312.2 1538.1,312.2 1539.6,312.2 1541.1,312.2 1542.6,312.2 1544.1,312.2 1545.6,312.2 1547.1,312.2 1548.6,312.2 1550.1,312.2 1551.6,312.2 1553.1,312.2 1554.6,312.2 1556.1,312.2 1557.6,312.2 1559.1,312.2 1560.6,312.2 1562.1,312.1 1563.6,312.1 1565.1,312.1 1566.6,312.1 1568.1,312.1 1569.6,312.1 1571.1,312.1 1572.6,312.1 1574.1,312.0 1575.6,312.0 1577.1,312.0 1578.6,312.0 1580.1,312.0 1581.6,311.9 1583.1,311.9 1584.6,311.9 1586.1,311.9 1587.7,311.9 1589.2,311.8 1590.7,311.8 1592.2,311.8 1593.7,311.8 1595.2,311.7 1596.7,311.7 1598.2,311.7 1599.7,311.6 1601.2,311.6 1602.7,311.6 1604.2,311.5 1605.8,311.5 1607.3,311.5 1608.8,311.4 1610.3,311.4 1611.8,311.4 1613.3,311.3 1614.8,311.3 1616.4,311.2 1617.9,311.2" fill="none" stroke="#000" stroke-width="6.3" stroke-linejoin="round"/>
<path d="M968.4,295.0 969.9,295.4 971.3,295.8 972.8,296.2 974.3,296.5 975.7,296.9 977.2,297.3 978.7,297.6 980.1,297.9 981.6,298.3 983.1,298.6 984.5,298.9 986.0,299.2 987.5,299.5 989.0,299.8 990.4,300.0 991.9,300.3 993.4,300.6 994.9,300.8 996.4,301.0 997.9,301.3 999.3,301.5 1000.8,301.7 1002.3,301.9 1003.8,302.1 1005.3,302.3 1006.8,302.5 1008.3,302.7 1009.8,302.9 1011.3,303.1 1012.8,303.2 1014.3,303.4 1015.7,303.6 1017.2,303.7 1018.7,303.9 1020.2,304.0 1021.7,304.1 1023.2,304.3 1024.7,304.4 1026.2,304.5 1027.7,304.6 1029.2,304.8 1030.7,304.9 1032.2,305.0 1033.7,305.1 1035.2,305.2 1036.8,305.3 1038.3,305.4 1039.8,305.5 1041.3,305.6 1042.8,305.7 1044.3,305.8 1045.8,305.9 1047.3,305.9 1048.8,306.0 1050.3,306.1 1051.8,306.2 1053.3,306.3 1054.8,306.4 1056.3,306.4 1057.8,306.5 1059.3,306.6 1060.8,306.7 1062.3,306.8 1063.8,306.9 1065.3,306.9 1066.8,307.0 1068.4,307.1 1069.9,307.2 1071.4,307.3 1072.9,307.4 1074.4,307.5 1075.9,307.6 1077.4,307.7 1078.9,307.8 1080.4,307.9 1081.9,308.0 1083.4,308.1 1084.9,308.2 1086.4,308.3 1087.8,308.4 1089.3,308.6 1090.8,308.7 1092.3,308.8 1093.8,309.0 1095.3,309.1 1096.8,309.2 1098.3,309.4 1099.8,309.5 1101.3,309.7 1102.8,309.9 1104.2,310.0 1105.7,310.2 1107.2,310.4 1108.7,310.6 1110.2,310.8 1111.7,311.0 1113.1,311.2 1114.6,311.4 1116.1,311.6 1117.6,311.8 1119.0,312.1 1120.5,312.3 1122.0,312.5 1123.5,312.8 1124.9,313.0 1126.4,313.3 1127.9,313.5 1129.4,313.8 1130.8,314.0 1132.3,314.3 1133.8,314.5 1135.3,314.8 1136.7,315.0 1138.2,315.2 1139.7,315.5 1141.2,315.7 1142.7,316.0 1144.2,316.2 1145.7,316.4 1147.1,316.6 1148.6,316.8 1150.1,317.0 1151.6,317.2 1153.1,317.4 1154.7,317.6 1156.2,317.8 1157.7,318.0 1159.2,318.1 1160.7,318.3 1162.2,318.4 1163.8,318.5 1165.3,318.7 1166.8,318.8 1168.3,319.0 1169.8,319.1 1171.4,319.3 1172.9,319.5 1174.4,319.6 1175.9,319.8 1177.3,320.1 1178.8,320.3 1180.3,320.6 1181.8,320.8 1183.2,321.1 1184.7,321.5 1186.1,321.8 1187.5,322.2 1188.9,322.7 1190.3,323.1 1191.6,323.6 1193.0,324.2 1194.3,324.8 1195.7,325.4 1197.0,326.0 1198.3,326.7 1199.6,327.4 1200.9,328.1 1202.2,328.8 1203.5,329.5 1204.8,330.3 1206.1,331.1 1207.4,331.9 1208.7,332.6 1210.0,333.4 1211.3,334.2 1212.7,335.0 1214.0,335.8 1215.4,336.6 1216.7,337.4 1218.1,338.1 1219.5,338.9 1220.9,339.6 1222.3,340.3 1223.7,341.0 1225.1,341.6 1226.6,342.3 1228.0,342.9 1229.4,343.4 1230.9,343.9 1232.3,344.4 1233.7,344.8 1235.2,345.2 1236.6,345.5 1238.1,345.8 1239.5,346.0 1240.9,346.1 1242.4,346.2 1243.8,346.2 1245.2,346.1 1246.6,345.9 1248.0,345.7 1249.4,345.4 1250.8,345.0 1252.1,344.6 1253.5,344.1 1254.8,343.6 1256.1,342.9 1257.5,342.3 1258.8,341.6 1260.0,340.8 1261.3,340.0 1262.6,339.1 1263.8,338.2 1265.0,337.3 1266.2,336.3 1267.4,335.3 1268.5,334.2 1269.7,333.2 1270.8,332.1 1271.9,330.9 1272.9,329.8 1274.0,328.6 1275.0,327.5 1276.0,326.3 1276.9,325.1 1277.9,323.8 1278.8,322.6 1279.7,321.4 1280.5,320.1 1281.4,318.9 1282.2,317.6 1283.0,316.3 1283.8,315.1 1284.6,313.8 1285.3,312.5 1286.0,311.2 1286.7,309.8 1287.4,308.5 1288.1,307.2 1288.7,305.8 1289.4,304.5 1290.0,303.1 1290.6,301.8 1291.2,300.4 1291.8,299.0 1292.4,297.6 1292.9,296.3 1293.5,294.9 1294.0,293.5 1294.6,292.1 1295.1,290.7 1295.6,289.3 1296.1,287.9 1296.6,286.5 1297.1,285.0 1297.6,283.6 1298.1,282.2 1298.6,280.8 1299.1,279.4 1299.6,278.0 1300.0,276.5 1300.5,275.1 1301.0,273.7 1301.5,272.3 1301.9,270.8 1302.4,269.4 1302.9,268.0 1303.4,266.6 1303.9,265.2 1304.3,263.7 1304.8,262.3 1305.3,260.9 1305.8,259.5 1306.3,258.1 1306.8,256.6 1307.4,255.2 1307.9,253.8 1308.4,252.4 1308.9,251.0 1309.5,249.6 1310.0,248.1 1310.6,246.7 1311.1,245.3 1311.7,243.9 1312.3,242.5 1312.9,241.1 1313.5,239.7 1314.1,238.3 1314.8,236.9 1315.4,235.5 1316.1,234.1 1316.7,232.7 1317.4,231.3 1318.1,229.9 1318.8,228.5 1319.6,227.1 1320.3,225.7 1321.1,224.3 1321.9,223.0 1322.7,221.6 1323.5,220.4 1324.4,219.2 1325.4,218.2 1326.4,217.2 1327.5,216.5 1328.6,216.0 1329.8,215.6 1331.0,215.4 1332.3,215.4 1333.6,215.5 1334.8,215.8 1336.1,216.3 1337.2,216.9 1338.4,217.7 1339.5,218.5 1340.5,219.5 1341.5,220.6 1342.5,221.7 1343.4,222.9 1344.3,224.2 1345.2,225.5 1346.1,226.8 1346.9,228.1 1347.8,229.4 1348.6,230.8 1349.4,232.1 1350.2,233.4 1351.1,234.8 1351.8,236.2 1352.6,237.5 1353.4,238.9 1354.2,240.3 1355.0,241.6 1355.7,243.0 1356.5,244.4 1357.2,245.8 1358.0,247.1 1358.7,248.5 1359.5,249.9 1360.3,251.2 1361.0,252.6 1361.8,254.0 1362.5,255.3 1363.3,256.6 1364.1,258.0 1364.9,259.3 1365.6,260.6 1366.4,261.9 1367.2,263.2 1368.0,264.5 1368.9,265.7 1369.7,267.0 1370.5,268.2 1371.4,269.4 1372.3,270.6 1373.1,271.8 1374.0,273.0 1374.9,274.1 1375.9,275.2 1376.8,276.3 1377.8,277.4 1378.8,278.5 1379.8,279.5 1380.8,280.5 1381.9,281.5 1382.9,282.4 1384.0,283.4 1385.2,284.3 1386.3,285.1 1387.5,286.0 1388.7,286.8 1389.9,287.5 1391.2,288.3 1392.4,289.0 1393.8,289.7 1395.1,290.3 1396.5,290.9 1397.9,291.5 1399.3,292.0 1400.7,292.6 1402.2,293.1 1403.6,293.5 1405.1,294.0 1406.6,294.4 1408.1,294.8 1409.6,295.2 1411.1,295.6 1412.6,296.0 1414.1,296.3 1415.7,296.7 1417.2,297.0 1418.7,297.3 1420.2,297.6 1421.7,297.9 1423.2,298.2 1424.7,298.5 1426.2,298.8 1427.7,299.0 1429.2,299.3 1430.7,299.5 1432.2,299.8 1433.6,300.0 1435.1,300.2 1436.6,300.4 1438.1,300.6 1439.6,300.8 1441.1,301.0 1442.6,301.2 1444.0,301.4 1445.5,301.6 1447.0,301.8 1448.5,301.9 1449.9,302.1 1451.4,302.2 1452.9,302.4 1454.4,302.5 1455.9,302.7 1457.3,302.8 1458.8,303.0 1460.3,303.1 1461.8,303.3 1463.3,303.4 1464.7,303.5 1466.2,303.7 1467.7,303.8 1469.2,303.9 1470.7,304.0 1472.1,304.2 1473.6,304.3 1475.1,304.4 1476.6,304.6 1478.1,304.7 1479.6,304.8 1481.1,304.9 1482.5,305.1 1484.0,305.2 1485.5,305.3 1487.0,305.4 1488.5,305.5 1490.0,305.7 1491.5,305.8 1493.0,305.9 1494.5,306.0 1496.0,306.1 1497.5,306.3 1499.0,306.4 1500.5,306.5 1502.0,306.6 1503.5,306.7 1505.0,306.8 1506.5,307.0 1508.0,307.1 1509.5,307.2 1511.0,307.3 1512.5,307.4 1514.0,307.5 1515.5,307.6 1517.0,307.7 1518.5,307.8 1520.0,307.9 1521.5,308.0 1523.0,308.1 1524.5,308.2 1526.0,308.4 1527.6,308.5 1529.1,308.6 1530.6,308.6 1532.1,308.7 1533.6,308.8 1535.1,308.9 1536.6,309.0 1538.1,309.1 1539.6,309.2 1541.1,309.3 1542.6,309.4 1544.1,309.5 1545.6,309.6 1547.2,309.7 1548.7,309.7 1550.2,309.8 1551.7,309.9 1553.2,310.0 1554.7,310.1 1556.2,310.1 1557.7,310.2 1559.2,310.3 1560.7,310.4 1562.2,310.4 1563.7,310.5 1565.3,310.6 1566.8,310.6 1568.3,310.7 1569.8,310.8 1571.3,310.8 1572.8,310.9 1574.3,311.0 1575.8,311.0 1577.3,311.1 1578.8,311.1 1580.3,311.2 1581.8,311.2 1583.3,311.3 1584.8,311.3 1586.3,311.4 1587.8,311.4 1589.3,311.5 1590.8,311.5 1592.3,311.5 1593.8,311.6 1595.3,311.6 1596.8,311.7 1598.3,311.7 1599.8,311.7 1601.3,311.7 1602.8,311.8 1604.3,311.8 1605.8,311.8 1607.3,311.8 1608.8,311.9 1610.3,311.9 1611.8,311.9 1613.3,311.9 1614.7,311.9 1616.2,311.9 1617.7,311.9" fill="none" stroke="#00ff0a" stroke-width="5.2" stroke-linejoin="round"/>
</g>
<line x1="143.2" y1="37.4" x2="201.5" y2="37.4" stroke="#000" stroke-width="6.3" stroke-linecap="round"/>
<line x1="142.6" y1="80.4" x2="203.2" y2="80.4" stroke="#00f" stroke-width="6.5" stroke-linecap="round" stroke-dasharray="10 17.2"/>
<line x1="142.6" y1="122.8" x2="203.2" y2="122.8" stroke="#f00" stroke-width="6.5" stroke-linecap="round" stroke-dasharray="0 11.45"/>
<text x="212.8" y="47.2" class="lb" textLength="315.9" lengthAdjust="spacingAndGlyphs">Analitical expression</text>
<text x="212.3" y="89.7" class="lb" textLength="231.6" lengthAdjust="spacingAndGlyphs">1 ps simulation</text>
<text x="212.3" y="132" class="lb" textLength="250.4" lengthAdjust="spacingAndGlyphs">10 ps simulation</text>
<line x1="981.7" y1="16.2" x2="1042" y2="16.2" stroke="#000" stroke-width="6.3" stroke-linecap="round"/>
<line x1="981.5" y1="58.5" x2="1042.3" y2="58.5" stroke="#00ff0a" stroke-width="5" stroke-linecap="round"/>
<text x="1050.5" y="24.9" class="lb" textLength="315.4" lengthAdjust="spacingAndGlyphs">Analitical expression</text>
<text x="1050" y="66.7" class="lb" textLength="260" lengthAdjust="spacingAndGlyphs">0.3 ps simulation</text>
</svg>
</body></html>
